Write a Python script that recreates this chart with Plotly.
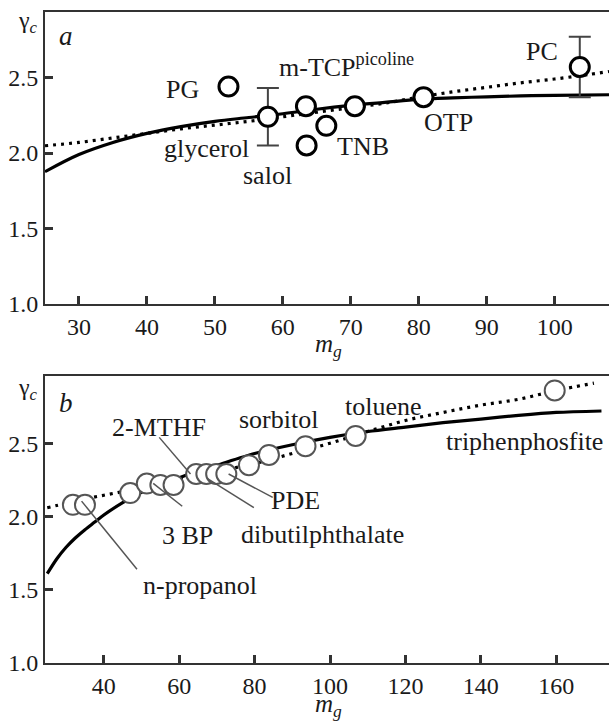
import plotly.graph_objects as go

# ---------------- Panel a data ----------------
a_names = ["PG", "glycerol", "m-TCP", "salol", "TNB", "picoline", "OTP", "PC"]
a_mg = [52.0, 57.8, 63.4, 63.5, 66.4, 70.6, 80.7, 103.7]
a_gamma = [2.44, 2.24, 2.31, 2.05, 2.18, 2.31, 2.37, 2.57]
a_err = [None, 0.19, None, None, None, None, None, 0.20]

a_solid_mg = [25, 30, 35, 40, 45, 50, 55, 60, 65, 70, 75, 80, 85, 90, 95, 100, 108]
a_solid_g = [1.876, 1.99, 2.07, 2.13, 2.175, 2.21, 2.235, 2.26, 2.29, 2.315, 2.335, 2.355,
             2.365, 2.372, 2.378, 2.382, 2.386]
a_dot_mg = [25, 30, 35, 40, 45, 50, 55, 60, 65, 70, 75, 80, 85, 90, 95, 100, 105, 108]
a_dot_g = [2.048, 2.07, 2.10, 2.13, 2.16, 2.185, 2.21, 2.24, 2.27, 2.30, 2.33, 2.37,
           2.405, 2.435, 2.465, 2.49, 2.52, 2.54]

a_labels = ["PG", "glycerol", "salol", "m-TCP<sup>picoline</sup>", "TNB", "OTP", "PC"]
a_label_x = [45.3, 48.7, 57.8, 69.3, 71.8, 84.4, 98.1]
a_label_y = [2.42, 2.03, 1.85, 2.58, 2.046, 2.205, 2.67]

# ---------------- Panel b data ----------------
b_mg = [31.8, 35.0, 47.0, 51.4, 55.0, 58.5, 64.5, 67.2, 69.8, 72.5, 78.5, 83.8, 93.5, 106.8, 159.6]
b_gamma = [2.08, 2.08, 2.16, 2.225, 2.215, 2.215, 2.29, 2.29, 2.29, 2.29, 2.35, 2.42, 2.48, 2.55, 2.86]

b_solid_mg = [25, 27.5, 30, 32.5, 35, 37.5, 40, 45, 50, 55, 60, 65, 70, 80, 90, 100, 110, 120,
              130, 140, 150, 160, 172]
b_solid_g = [1.61, 1.71, 1.79, 1.855, 1.91, 1.96, 2.01, 2.095, 2.165, 2.22, 2.265, 2.31, 2.35,
             2.43, 2.49, 2.54, 2.58, 2.61, 2.64, 2.665, 2.69, 2.71, 2.72]
b_dot_mg = [25, 30, 35, 40, 45, 50, 55, 60, 70, 80, 90, 100, 110, 120, 130, 140, 150, 160, 170]
b_dot_g = [2.06, 2.09, 2.12, 2.145, 2.17, 2.20, 2.23, 2.26, 2.31, 2.36, 2.43, 2.50, 2.58, 2.655,
           2.71, 2.76, 2.80, 2.86, 2.91]

b_labels = ["2-MTHF", "sorbitol", "toluene", "triphenphosfite", "PDE", "dibutilphthalate",
            "3 BP", "n-propanol"]
b_label_x = [54.7, 86.4, 114.3, 151.5, 90.9, 98.1, 62.2, 65.6]
b_label_y = [2.61, 2.665, 2.754, 2.515, 2.11, 1.874, 1.867, 1.53]

# leader lines (from, to) in panel b
b_lead_x0 = [54.7, 53.1, 67.4, 73.1, 34.1]
b_lead_y0 = [2.54, 2.226, 2.26, 2.29, 2.105]
b_lead_x1 = [63.0, 60.8, 79.8, 84.8, 48.8]
b_lead_y1 = [2.29, 2.07, 2.06, 2.13, 1.64]

x_ticks_a = [30, 40, 50, 60, 70, 80, 90, 100]
x_ticks_b = [40, 60, 80, 100, 120, 140, 160]
y_ticks = [1.0, 1.5, 2.0, 2.5]

FONT = "Liberation Serif"
INK = "#1a1a1a"
AX = "#333333"

fig = go.Figure()

dotdash = "3px,5px"

# panel a curves
fig.add_trace(go.Scatter(x=a_solid_mg, y=a_solid_g, mode="lines", line=dict(color="black", width=3.2, shape="spline"),
                         xaxis="x", yaxis="y", hoverinfo="skip"))
fig.add_trace(go.Scatter(x=a_dot_mg, y=a_dot_g, mode="lines", line=dict(color="black", width=3.2, dash=dotdash, shape="spline"),
                         xaxis="x", yaxis="y", hoverinfo="skip"))
# error bars
e_x = [m for m, e in zip(a_mg, a_err) if e is not None]
e_y = [g for g, e in zip(a_gamma, a_err) if e is not None]
e_v = [e for e in a_err if e is not None]
fig.add_trace(go.Scatter(x=e_x, y=e_y, mode="markers", marker=dict(size=1, color="rgba(0,0,0,0)"),
                         error_y=dict(type="data", array=e_v, color="#444", thickness=2, width=11),
                         xaxis="x", yaxis="y", hoverinfo="skip"))
fig.add_trace(go.Scatter(x=a_mg, y=a_gamma, mode="markers", text=a_names,
                         marker=dict(size=19, color="white", line=dict(color="black", width=3)),
                         xaxis="x", yaxis="y"))

# panel b curves
fig.add_trace(go.Scatter(x=b_solid_mg, y=b_solid_g, mode="lines", line=dict(color="black", width=3.2, shape="spline", smoothing=0.8),
                         xaxis="x2", yaxis="y2", hoverinfo="skip"))
fig.add_trace(go.Scatter(x=b_dot_mg, y=b_dot_g, mode="lines", line=dict(color="black", width=3.2, dash=dotdash, shape="spline"),
                         xaxis="x2", yaxis="y2", hoverinfo="skip"))
for x0, y0, x1, y1 in zip(b_lead_x0, b_lead_y0, b_lead_x1, b_lead_y1):
    fig.add_shape(type="line", xref="x2", yref="y2", x0=x0, y0=y0, x1=x1, y1=y1,
                  line=dict(color="#555555", width=1.5))
fig.add_trace(go.Scatter(x=b_mg, y=b_gamma, mode="markers",
                         marker=dict(size=20, color="white", line=dict(color="#555555", width=2)),
                         xaxis="x2", yaxis="y2"))

ann = []
for t, x, y in zip(a_labels, a_label_x, a_label_y):
    ann.append(dict(text=t, x=x, y=y, xref="x", yref="y", showarrow=False,
                    xanchor="center", yanchor="middle",
                    font=dict(family=FONT, size=26, color=INK)))
for t, x, y in zip(b_labels, b_label_x, b_label_y):
    ann.append(dict(text=t, x=x, y=y, xref="x2", yref="y2", showarrow=False,
                    xanchor="center", yanchor="middle",
                    font=dict(family=FONT, size=26, color=INK)))

# panel letters (data coords), axis titles (paper coords)
ann.append(dict(text="<i>a</i>", x=28.1, y=2.775, xref="x", yref="y", showarrow=False,
                xanchor="center", yanchor="middle", font=dict(family=FONT, size=27, color=INK)))
ann.append(dict(text="<i>b</i>", x=30.0, y=2.775, xref="x2", yref="y2", showarrow=False,
                xanchor="center", yanchor="middle", font=dict(family=FONT, size=27, color=INK)))
for gy, my in [(0.984, 0.487), (0.421, -0.065)]:
    ann.append(dict(text="γ<sub><i>c</i></sub>", x=-0.030, y=gy, xref="paper", yref="paper",
                    xanchor="center", yanchor="middle",
                    showarrow=False, font=dict(family=FONT, size=24, color=INK)))
    ann.append(dict(text="<i>m</i><sub><i>g</i></sub>", x=0.502, y=my, xref="paper", yref="paper",
                    xanchor="center", yanchor="middle",
                    showarrow=False, font=dict(family=FONT, size=25, color=INK)))

axis_common = dict(showgrid=False, zeroline=False, showline=True, linecolor=AX, linewidth=2,
                   ticks="inside", tickcolor=AX, tickwidth=2.5, ticklen=8,
                   tickfont=dict(family=FONT, size=24, color=INK))

fig.update_layout(
    width=610, height=727,
    margin=dict(l=45, r=1, t=12, b=64),
    paper_bgcolor="white", plot_bgcolor="white",
    showlegend=False,
    annotations=ann,
    xaxis=dict(domain=[0, 1], range=[25, 108], tickvals=x_ticks_a, mirror=True, anchor="y", **axis_common),
    yaxis=dict(domain=[0.5515, 1], range=[1.0, 2.934], tickvals=y_ticks, tickformat=".1f", anchor="x", **axis_common),
    xaxis2=dict(domain=[0, 1], range=[24.4, 174], tickvals=x_ticks_b, mirror=True, anchor="y2", **axis_common),
    yaxis2=dict(domain=[0, 0.4409], range=[1.0, 2.959], tickvals=y_ticks, tickformat=".1f", anchor="x2", **axis_common),
)

fig.write_html("out.html")
